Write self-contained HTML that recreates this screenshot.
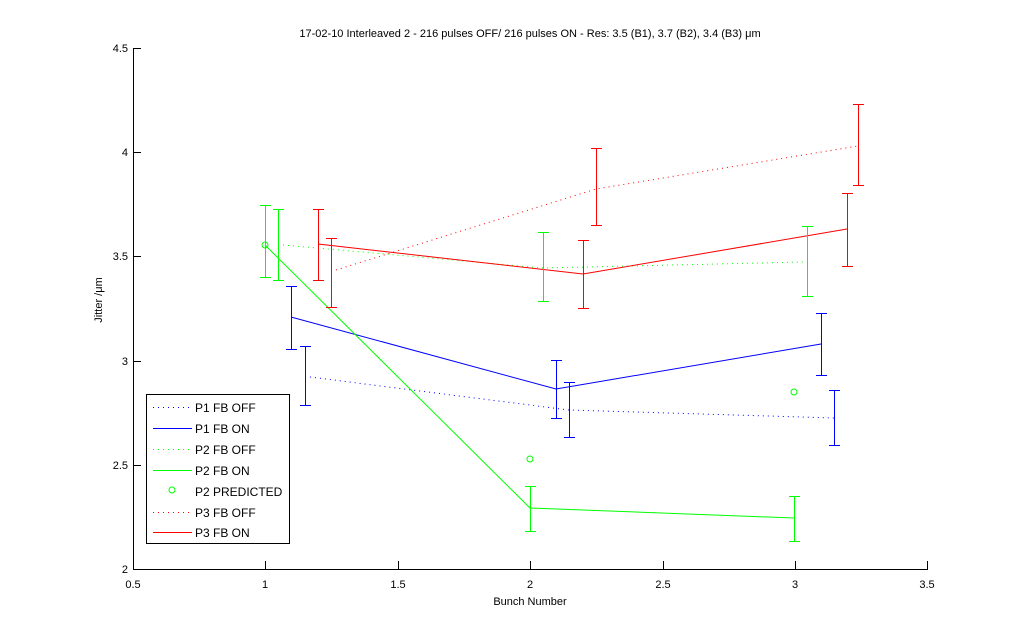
<!DOCTYPE html>
<html><head><meta charset="utf-8"><style>
body{margin:0;background:#fff;}
svg text{font-family:"Liberation Sans",sans-serif;font-size:11px;fill:#000;}
</style></head><body>
<svg width="1024" height="639" xmlns="http://www.w3.org/2000/svg">
<rect width="1024" height="639" fill="#fff"/>
<text x="530" y="37" text-anchor="middle">17-02-10 Interleaved 2 - 216 pulses OFF/ 216 pulses ON - Res: 3.5 (B1), 3.7 (B2), 3.4 (B3) μm</text>
<g stroke="#000" stroke-width="1" fill="none" shape-rendering="crispEdges">
<line x1="133.5" y1="48" x2="133.5" y2="569.5"/>
<line x1="133" y1="569.5" x2="928" y2="569.5"/>
<line x1="133" y1="48.5" x2="141" y2="48.5"/>
<line x1="133" y1="152.5" x2="141" y2="152.5"/>
<line x1="133" y1="256.5" x2="141" y2="256.5"/>
<line x1="133" y1="361.5" x2="141" y2="361.5"/>
<line x1="133" y1="465.5" x2="141" y2="465.5"/>
<line x1="265.5" y1="569" x2="265.5" y2="561"/>
<line x1="398.5" y1="569" x2="398.5" y2="561"/>
<line x1="530.5" y1="569" x2="530.5" y2="561"/>
<line x1="663.5" y1="569" x2="663.5" y2="561"/>
<line x1="795.5" y1="569" x2="795.5" y2="561"/>
<line x1="927.5" y1="569" x2="927.5" y2="561"/>
</g>
<g text-anchor="end">
<text x="128" y="52">4.5</text><text x="128" y="156">4</text><text x="128" y="260">3.5</text>
<text x="128" y="365">3</text><text x="128" y="469">2.5</text><text x="128" y="573">2</text>
</g>
<g text-anchor="middle">
<text x="133" y="588">0.5</text><text x="265" y="588">1</text><text x="398" y="588">1.5</text>
<text x="530" y="588">2</text><text x="663" y="588">2.5</text><text x="795" y="588">3</text><text x="927" y="588">3.5</text>
<text x="530" y="605">Bunch Number</text>
</g>
<text transform="translate(102,300) rotate(-90)" text-anchor="middle">Jitter /μm</text>

<g fill="none" stroke-width="1">
<!-- dotted lines -->
<polyline points="310,377 569,410 834,418" stroke="#00f" stroke-dasharray="1,4"/>
<polyline points="283,245 543,268 804,262" stroke="#0f0" stroke-dasharray="1,4"/>
<polyline points="336,270 596,189 858,146" stroke="#f00" stroke-dasharray="1,4"/>
<!-- solid lines -->
<polyline points="291,317 556,389 821,344" stroke="#00f"/>
<polyline points="265,245 530,508 794,518" stroke="#0f0"/>
<polyline points="318,244 583,274 847,229" stroke="#f00"/>
<!-- error bars -->
<g stroke="#00f">
<path d="M291.5 286V349M286 286.5h11M286 349.5h11"/>
<path d="M305.5 346V405M300 346.5h11M300 405.5h11"/>
<path d="M556.5 360V418M551 360.5h11M551 418.5h11"/>
<path d="M569.5 382V437M564 382.5h11M564 437.5h11"/>
<path d="M821.5 313V375M816 313.5h11M816 375.5h11"/>
<path d="M834.5 390V445M829 390.5h11M829 445.5h11"/>
</g>
<g stroke="#0f0">
<path d="M265.5 205V277M260 205.5h11M260 277.5h11"/>
<path d="M278.5 209V280M273 209.5h11M273 280.5h11"/>
<path d="M530.5 486V531M525 486.5h11M525 531.5h11"/>
<path d="M543.5 232V301M538 232.5h11M538 301.5h11"/>
<path d="M794.5 496V541M789 496.5h11M789 541.5h11"/>
<path d="M807.5 226V296M802 226.5h11M802 296.5h11"/>
<circle cx="265" cy="245" r="3"/>
<circle cx="530" cy="459" r="3"/>
<circle cx="794" cy="392" r="3"/>
</g>
<g stroke="#f00">
<path d="M318.5 209V280M313 209.5h11M313 280.5h11"/>
<path d="M331.5 238V307M326 238.5h11M326 307.5h11"/>
<path d="M583.5 240V308M578 240.5h11M578 308.5h11"/>
<path d="M596.5 148V225M591 148.5h11M591 225.5h11"/>
<path d="M847.5 193V266M842 193.5h11M842 266.5h11"/>
<path d="M858.5 104V185M853 104.5h11M853 185.5h11"/>
</g>
</g>

<!-- legend -->
<rect x="146.5" y="394.5" width="143" height="149" fill="#fff" stroke="#000"/>
<g fill="none" stroke-width="1">
<line x1="153" y1="407.5" x2="192" y2="407.5" stroke="#00f" stroke-dasharray="1,4"/>
<line x1="153" y1="428.5" x2="192" y2="428.5" stroke="#00f"/>
<line x1="153" y1="449.5" x2="192" y2="449.5" stroke="#0f0" stroke-dasharray="1,4"/>
<line x1="153" y1="470.5" x2="192" y2="470.5" stroke="#0f0"/>
<circle cx="172" cy="490" r="3" stroke="#0f0"/>
<line x1="153" y1="512.5" x2="192" y2="512.5" stroke="#f00" stroke-dasharray="1,4"/>
<line x1="153" y1="532.5" x2="192" y2="532.5" stroke="#f00"/>
</g>
<g font-size="12">
<text x="195" y="412" style="font-size:12px">P1 FB OFF</text>
<text x="195" y="433" style="font-size:12px">P1 FB ON</text>
<text x="195" y="454" style="font-size:12px">P2 FB OFF</text>
<text x="195" y="475" style="font-size:12px">P2 FB ON</text>
<text x="195" y="496" style="font-size:12px">P2 PREDICTED</text>
<text x="195" y="517" style="font-size:12px">P3 FB OFF</text>
<text x="195" y="537" style="font-size:12px">P3 FB ON</text>
</g>
</svg>
</body></html>
